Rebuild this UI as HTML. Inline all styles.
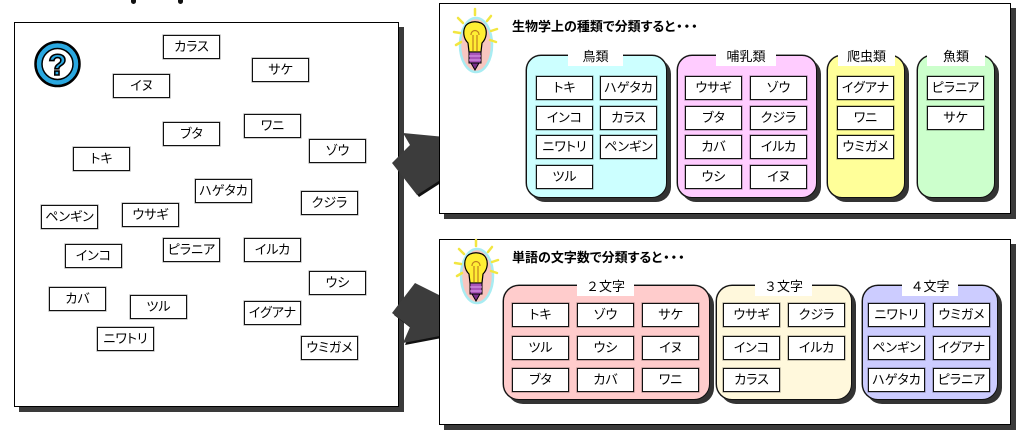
<!DOCTYPE html>
<html><head><meta charset="utf-8">
<style>
html,body{margin:0;padding:0;background:#fff;}
body{width:1024px;height:434px;position:relative;overflow:hidden;font-family:"Liberation Sans","Noto Sans CJK JP",sans-serif;color:#000;font-feature-settings:"palt" 1;}
.p{position:absolute;background:#fff;border:1px solid #000;box-sizing:border-box;box-shadow:5px 5px 0 #3a3a3a;}
.b{position:absolute;width:57px;height:24px;box-sizing:border-box;border:1px solid #111;box-shadow:0 0 0 0.6px rgba(0,0,0,.35);background:#fff;font-size:13px;line-height:22px;text-align:center;white-space:nowrap;}
.g{position:absolute;box-sizing:border-box;border:1px solid #111;box-shadow:4px 4px 0 #333,0 0 0 0.5px #333;}
.t{position:absolute;background:#fff;font-size:13px;line-height:18px;height:18px;text-align:center;white-space:nowrap;font-feature-settings:normal;}
.ti{position:absolute;font-size:13px;font-weight:bold;line-height:16px;white-space:nowrap;}
.ti span{letter-spacing:1px;margin-left:1px;}
</style></head><body>

<div style="position:absolute;left:131px;top:0;width:5px;height:4px;background:#111;border-radius:0 0 3px 3px;"></div>
<div style="position:absolute;left:178px;top:0;width:5px;height:4px;background:#111;border-radius:0 0 3px 3px;"></div>

<div class="p" style="left:14px;top:22px;width:385px;height:385px;"></div>
<svg style="position:absolute;left:33px;top:40px;" width="50" height="48" viewBox="0 0 50 48">
  <circle cx="24.5" cy="24" r="22" fill="#2aa8e0" stroke="#000" stroke-width="2.5"/>
  <circle cx="24.5" cy="24" r="15.5" fill="#fff" stroke="#000" stroke-width="1.5"/>
  <text x="24.5" y="35" text-anchor="middle" font-family="Liberation Sans" font-weight="bold" font-size="30" fill="#2aa8e0" stroke="#000" stroke-width="1.6">?</text>
</svg>

<div class="b" style="left:163px;top:35px;">カラス</div>
<div class="b" style="left:252px;top:58px;">サケ</div>
<div class="b" style="left:113px;top:74px;">イヌ</div>
<div class="b" style="left:163px;top:122px;">ブタ</div>
<div class="b" style="left:244px;top:114px;">ワニ</div>
<div class="b" style="left:309px;top:139px;">ゾウ</div>
<div class="b" style="left:73px;top:147px;">トキ</div>
<div class="b" style="left:195px;top:179px;">ハゲタカ</div>
<div class="b" style="left:301px;top:191px;">クジラ</div>
<div class="b" style="left:41px;top:205px;">ペンギン</div>
<div class="b" style="left:122px;top:203px;">ウサギ</div>
<div class="b" style="left:65px;top:244px;">インコ</div>
<div class="b" style="left:163px;top:238px;">ピラニア</div>
<div class="b" style="left:244px;top:238px;">イルカ</div>
<div class="b" style="left:309px;top:271px;">ウシ</div>
<div class="b" style="left:49px;top:287px;">カバ</div>
<div class="b" style="left:130px;top:295px;">ツル</div>
<div class="b" style="left:244px;top:301px;">イグアナ</div>
<div class="b" style="left:97px;top:327px;">ニワトリ</div>
<div class="b" style="left:301px;top:336px;">ウミガメ</div>

<svg style="position:absolute;left:0;top:0;" width="1024" height="434">
  <polygon points="405,135 447,139 447,179 419,197 394,165 412,147" fill="#111"/>
  <polygon points="403,133 445,137 445,177 417,195 392,163 410,145" fill="#3c3c3c"/>
  <polygon points="417,285 447,300 447,337 405,345 412,329 394,315" fill="#111"/>
  <polygon points="415,283 445,298 445,335 403,343 410,327 392,313" fill="#3c3c3c"/>
</svg>

<div class="p" style="left:439px;top:3px;width:572px;height:211px;"></div>
<svg style="position:absolute;left:451px;top:7px;" width="50" height="68" viewBox="0 0 50 68">
  <ellipse cx="25" cy="38" rx="16" ry="27" fill="#f8c6c0" stroke="#a8ecf2" stroke-width="2.5"/>
  <g stroke="#f2e640" stroke-width="2.5" stroke-linecap="round">
    <line x1="7" y1="11" x2="12" y2="16"/><line x1="24" y1="2" x2="24" y2="8"/>
    <line x1="40" y1="9" x2="36" y2="14"/><line x1="46" y1="22" x2="40" y2="24"/>
    <line x1="3" y1="25" x2="9" y2="26"/><line x1="45" y1="35" x2="39" y2="33"/>
    <line x1="5" y1="38" x2="10" y2="35"/>
  </g>
  <path d="M17,36 C12,31 12,24 14,20 C17,13 31,13 34,20 C36,24 36,31 31,36 L30,45 L18,45 Z" fill="#ffee33" stroke="#000" stroke-width="1.2"/>
  <path d="M20,28 C20,22 28,22 28,28 M22,28 L22,44 M26,28 L26,44" fill="none" stroke="#c08020" stroke-width="1.2"/>
  <rect x="18" y="45" width="12" height="11" fill="#a853b8" stroke="#000" stroke-width="1"/>
  <line x1="18" y1="49" x2="30" y2="49" stroke="#e0a0f0" stroke-width="1"/>
  <line x1="18" y1="53" x2="30" y2="53" stroke="#e0a0f0" stroke-width="1"/>
  <polygon points="20,56 28,56 24,63" fill="#7a2f8a" stroke="#000" stroke-width="1"/>
</svg>
<div class="ti" style="left:512px;top:19px;">生物学上の種類で分類すると<span>・・・</span></div>

<div class="g" style="left:526px;top:55px;width:141px;height:143px;border-radius:15px;background:#ccffff;"></div>
<div class="t" style="left:568px;top:48px;width:55px;">鳥類</div>
<div class="g" style="left:677px;top:55px;width:140px;height:143px;border-radius:15px;background:#ffccff;"></div>
<div class="t" style="left:716px;top:48px;width:60px;">哺乳類</div>
<div class="g" style="left:827px;top:55px;width:78px;height:143px;border-radius:15px;background:#ffff99;"></div>
<div class="t" style="left:838px;top:48px;width:57px;">爬虫類</div>
<div class="g" style="left:917px;top:55px;width:78px;height:143px;border-radius:15px;background:#ccffcc;"></div>
<div class="t" style="left:927px;top:48px;width:58px;">魚類</div>

<div class="b" style="left:536px;top:76px;">トキ</div>
<div class="b" style="left:600px;top:76px;">ハゲタカ</div>
<div class="b" style="left:536px;top:106px;">インコ</div>
<div class="b" style="left:600px;top:106px;">カラス</div>
<div class="b" style="left:536px;top:135px;">ニワトリ</div>
<div class="b" style="left:600px;top:135px;">ペンギン</div>
<div class="b" style="left:536px;top:165px;">ツル</div>

<div class="b" style="left:685px;top:76px;">ウサギ</div>
<div class="b" style="left:750px;top:76px;">ゾウ</div>
<div class="b" style="left:685px;top:106px;">ブタ</div>
<div class="b" style="left:750px;top:106px;">クジラ</div>
<div class="b" style="left:685px;top:135px;">カバ</div>
<div class="b" style="left:750px;top:135px;">イルカ</div>
<div class="b" style="left:685px;top:165px;">ウシ</div>
<div class="b" style="left:750px;top:165px;">イヌ</div>

<div class="b" style="left:837px;top:76px;">イグアナ</div>
<div class="b" style="left:837px;top:106px;">ワニ</div>
<div class="b" style="left:837px;top:135px;">ウミガメ</div>

<div class="b" style="left:927px;top:76px;">ピラニア</div>
<div class="b" style="left:927px;top:106px;">サケ</div>

<div class="p" style="left:439px;top:239px;width:572px;height:186px;"></div>
<svg style="position:absolute;left:452px;top:238px;" width="50" height="68" viewBox="0 0 50 68">
  <ellipse cx="25" cy="38" rx="16" ry="27" fill="#f8c6c0" stroke="#a8ecf2" stroke-width="2.5"/>
  <g stroke="#f2e640" stroke-width="2.5" stroke-linecap="round">
    <line x1="7" y1="11" x2="12" y2="16"/><line x1="24" y1="2" x2="24" y2="8"/>
    <line x1="40" y1="9" x2="36" y2="14"/><line x1="46" y1="22" x2="40" y2="24"/>
    <line x1="3" y1="25" x2="9" y2="26"/><line x1="45" y1="35" x2="39" y2="33"/>
    <line x1="5" y1="38" x2="10" y2="35"/>
  </g>
  <path d="M17,36 C12,31 12,24 14,20 C17,13 31,13 34,20 C36,24 36,31 31,36 L30,45 L18,45 Z" fill="#ffee33" stroke="#000" stroke-width="1.2"/>
  <path d="M20,28 C20,22 28,22 28,28 M22,28 L22,44 M26,28 L26,44" fill="none" stroke="#c08020" stroke-width="1.2"/>
  <rect x="18" y="45" width="12" height="11" fill="#a853b8" stroke="#000" stroke-width="1"/>
  <line x1="18" y1="49" x2="30" y2="49" stroke="#e0a0f0" stroke-width="1"/>
  <line x1="18" y1="53" x2="30" y2="53" stroke="#e0a0f0" stroke-width="1"/>
  <polygon points="20,56 28,56 24,63" fill="#7a2f8a" stroke="#000" stroke-width="1"/>
</svg>
<div class="ti" style="left:512px;top:250px;">単語の文字数で分類すると<span>・・・</span></div>

<div class="g" style="left:503px;top:285px;width:207px;height:115px;border-radius:16px;background:#ffcccc;"></div>
<div class="t" style="left:577px;top:278px;width:57px;">２文字</div>
<div class="g" style="left:716px;top:285px;width:136px;height:115px;border-radius:16px;background:#fff8dc;"></div>
<div class="t" style="left:755px;top:278px;width:57px;">３文字</div>
<div class="g" style="left:862px;top:285px;width:136px;height:115px;border-radius:16px;background:#ccccff;"></div>
<div class="t" style="left:902px;top:278px;width:56px;">４文字</div>

<div class="b" style="left:512px;top:303px;">トキ</div>
<div class="b" style="left:577px;top:303px;">ゾウ</div>
<div class="b" style="left:642px;top:303px;">サケ</div>
<div class="b" style="left:512px;top:336px;">ツル</div>
<div class="b" style="left:577px;top:336px;">ウシ</div>
<div class="b" style="left:642px;top:336px;">イヌ</div>
<div class="b" style="left:512px;top:368px;">ブタ</div>
<div class="b" style="left:577px;top:368px;">カバ</div>
<div class="b" style="left:642px;top:368px;">ワニ</div>

<div class="b" style="left:723px;top:303px;">ウサギ</div>
<div class="b" style="left:788px;top:303px;">クジラ</div>
<div class="b" style="left:723px;top:336px;">インコ</div>
<div class="b" style="left:788px;top:336px;">イルカ</div>
<div class="b" style="left:723px;top:368px;">カラス</div>

<div class="b" style="left:868px;top:303px;">ニワトリ</div>
<div class="b" style="left:933px;top:303px;">ウミガメ</div>
<div class="b" style="left:868px;top:336px;">ペンギン</div>
<div class="b" style="left:933px;top:336px;">イグアナ</div>
<div class="b" style="left:868px;top:368px;">ハゲタカ</div>
<div class="b" style="left:933px;top:368px;">ピラニア</div>

</body></html>
